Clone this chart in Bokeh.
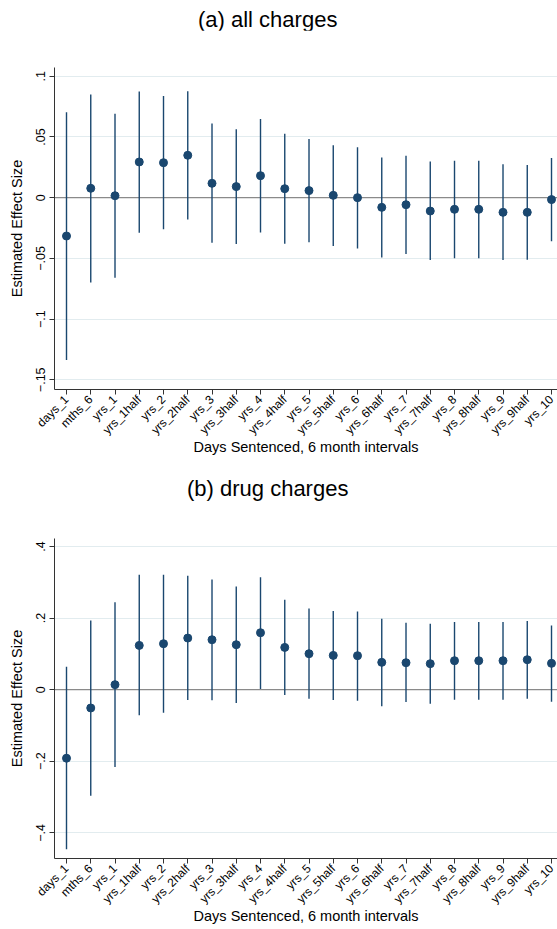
import math
from bokeh.plotting import figure
from bokeh.layouts import column
from bokeh.models import Range1d, FixedTicker, Span, Div
from bokeh.embed import file_html
from bokeh.resources import INLINE

categories = ["days_1", "mths_6", "yrs_1", "yrs_1half", "yrs_2", "yrs_2half",
              "yrs_3", "yrs_3half", "yrs_4", "yrs_4half", "yrs_5", "yrs_5half",
              "yrs_6", "yrs_6half", "yrs_7", "yrs_7half", "yrs_8", "yrs_8half",
              "yrs_9", "yrs_9half", "yrs_10"]

est_all = [-0.0316, 0.0077, 0.0016, 0.0294, 0.0288, 0.0349, 0.0118, 0.0091, 0.0181,
           0.0074, 0.0058, 0.0019, 0.0000, -0.0080, -0.0058, -0.0110, -0.0096, -0.0096,
           -0.0121, -0.0121, -0.0016]
hi_all = [0.0703, 0.0849, 0.0692, 0.0874, 0.0838, 0.0876, 0.0610, 0.0563, 0.0648,
          0.0527, 0.0483, 0.0431, 0.0415, 0.0330, 0.0346, 0.0297, 0.0305, 0.0305,
          0.0275, 0.0269, 0.0327]
lo_all = [-0.1338, -0.0698, -0.0659, -0.0288, -0.0261, -0.0179, -0.0371, -0.0382, -0.0286,
          -0.0379, -0.0368, -0.0398, -0.0418, -0.0492, -0.0464, -0.0514, -0.0500, -0.0500,
          -0.0514, -0.0511, -0.0360]

est_drug = [-0.1916, -0.0512, 0.0140, 0.1237, 0.1284, 0.1442, 0.1395, 0.1256, 0.1591,
            0.1181, 0.1005, 0.0958, 0.0949, 0.0763, 0.0753, 0.0726, 0.0809, 0.0809,
            0.0809, 0.0837, 0.0735]
hi_drug = [0.0642, 0.1935, 0.2446, 0.3209, 0.3209, 0.3181, 0.3079, 0.2884, 0.3144,
           0.2512, 0.2270, 0.2195, 0.2186, 0.1981, 0.1870, 0.1842, 0.1888, 0.1888,
           0.1888, 0.1916, 0.1795]
lo_drug = [-0.4460, -0.2967, -0.2158, -0.0716, -0.0642, -0.0288, -0.0298, -0.0372, 0.0019,
           -0.0149, -0.0251, -0.0288, -0.0307, -0.0465, -0.0344, -0.0391, -0.0279, -0.0279,
           -0.0279, -0.0251, -0.0335]

yticks_all = [-0.15, -0.1, -0.05, 0.0, 0.05, 0.1]
ylabels_all = ["\u2212.15", "\u2212.1", "\u2212.05", "0", ".05", ".1"]
yticks_drug = [-0.4, -0.2, 0.0, 0.2, 0.4]
ylabels_drug = ["\u2212.4", "\u2212.2", "0", ".2", ".4"]

titles = ["(a) all charges", "(b) drug charges"]
xlabel = "Days Sentenced, 6 month intervals"
ylabel = "Estimated Effect Size"

FONT = "Liberation Sans"
NAVY = "#1a476f"


def make_title(text, left, top, height):
    html = ('<div style="padding-left:%dpx; padding-top:%dpx; font-family:\'Liberation Sans\';'
            ' font-size:22px; line-height:22px; color:#000000; white-space:nowrap;">%s</div>'
            % (left, top, text))
    return Div(text=html, width=557, height=height, margin=0)


def make_panel(est, lo, hi, yticks, ylabels, yrange, height, top, frame_h):
    x = list(range(1, len(categories) + 1))
    bottom = height - top - frame_h
    p = figure(width=557, height=height, output_backend="svg", toolbar_location=None,
               x_range=Range1d(0.505, 21.247), y_range=Range1d(*yrange),
               min_border_left=54, min_border_right=0, min_border_top=top,
               min_border_bottom=bottom)
    p.outline_line_color = None
    p.background_fill_color = "white"
    p.border_fill_color = "white"

    p.xgrid.visible = False
    p.ygrid.ticker = FixedTicker(ticks=yticks)
    p.ygrid.grid_line_color = "#e2ecef"
    p.ygrid.grid_line_width = 1

    ax = p.yaxis[0]
    ax.ticker = FixedTicker(ticks=yticks)
    ax.major_label_overrides = dict(zip(yticks, ylabels))
    ax.major_label_orientation = "vertical"
    ax.axis_label = ylabel
    ax.axis_label_text_font = FONT
    ax.axis_label_text_font_size = "14.5px"
    ax.axis_label_text_font_style = "normal"
    ax.axis_label_text_color = "#000000"
    ax.axis_label_standoff = 9
    ax.major_label_text_font = FONT
    ax.major_label_text_font_size = "12.5px"
    ax.major_label_text_color = "#000000"
    ax.major_label_standoff = 4
    ax.major_tick_out = 5
    ax.major_tick_in = 0
    ax.minor_tick_out = 0
    ax.minor_tick_in = 0
    ax.axis_line_color = "#333333"
    ax.major_tick_line_color = "#333333"

    bx = p.xaxis[0]
    bx.ticker = FixedTicker(ticks=x)
    bx.major_label_overrides = {i: c for i, c in zip(x, categories)}
    bx.major_label_orientation = math.pi / 4
    bx.axis_label = xlabel
    bx.axis_label_text_font = FONT
    bx.axis_label_text_font_size = "14.5px"
    bx.axis_label_text_font_style = "normal"
    bx.axis_label_text_color = "#000000"
    bx.axis_label_standoff = -6
    bx.major_label_text_font = FONT
    bx.major_label_text_font_size = "12px"
    bx.major_label_text_color = "#000000"
    bx.major_label_standoff = 3
    bx.major_tick_out = 5
    bx.major_tick_in = 0
    bx.minor_tick_out = 0
    bx.minor_tick_in = 0
    bx.axis_line_color = "#333333"
    bx.major_tick_line_color = "#333333"

    zero = Span(location=0, dimension="width", line_color="#8a8a8a", line_width=1.3,
                level="underlay")
    p.add_layout(zero)

    p.segment(x0=x, y0=lo, x1=x, y1=hi, line_color=NAVY, line_width=1.4)
    p.scatter(x=x, y=est, size=8, fill_color=NAVY, line_color=NAVY)
    return p


ta = make_title(titles[0], 198, 9, 30)
pa = make_panel(est_all, lo_all, hi_all, yticks_all, ylabels_all,
                (-0.158, 0.1072), 441, 37, 322)
tb = make_title(titles[1], 187, 7, 30)
pb = make_panel(est_drug, lo_drug, hi_drug, yticks_drug, ylabels_drug,
                (-0.4718, 0.4224), 428, 37, 320)

layout = column(ta, pa, tb, pb, spacing=0)
open("out.html", "w").write(file_html(layout, INLINE))
